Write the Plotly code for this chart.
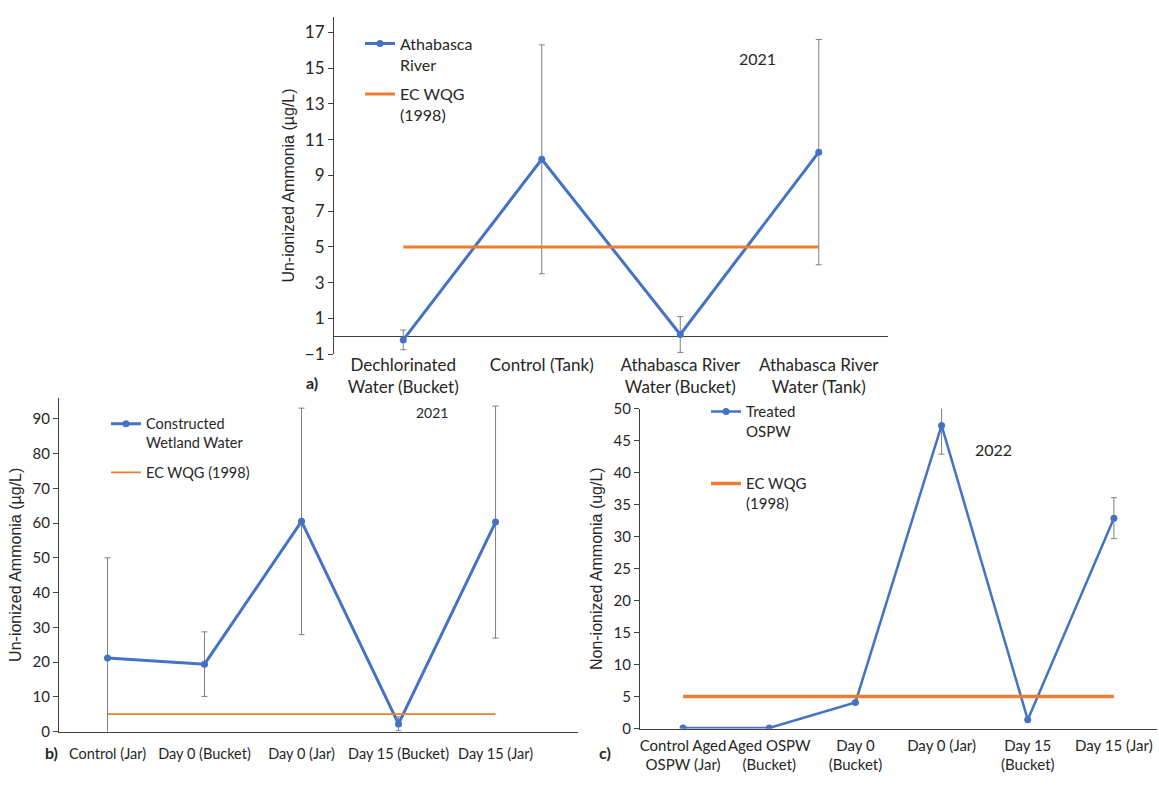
import plotly.graph_objects as go

# ---------------- data ----------------
cats_a = ["Dechlorinated<br>Water (Bucket)", "Control (Tank)",
          "Athabasca River<br>Water (Bucket)", "Athabasca River<br>Water (Tank)"]
vals_a = [-0.2, 9.9, 0.1, 10.3]
err_a = [0.55, 6.4, 1.0, 6.3]

cats_b = ["Control (Jar)", "Day 0 (Bucket)", "Day 0 (Jar)", "Day 15 (Bucket)", "Day 15 (Jar)"]
vals_b = [21.2, 19.4, 60.5, 2.2, 60.3]
err_b = [28.8, 9.3, 32.6, 2.0, 33.4]

cats_c = ["Control Aged<br>OSPW (Jar)", "Aged OSPW<br>(Bucket)", "Day 0<br>(Bucket)",
          "Day 0 (Jar)", "Day 15<br>(Bucket)", "Day 15 (Jar)"]
vals_c = [0.1, 0.1, 4.1, 47.4, 1.4, 32.9]
err_c = [0.0, 0.0, 0.0, 4.5, 0.0, 3.2]

EC_WQG = 5

BLUE = "#4472C4"
ORANGE = "#ED7D31"
ERR = "#7F7F7F"
INK = "#262626"
AX = "#404040"

def font(size, fam="Lato"):
    return dict(family=fam, size=size, color=INK)

TITLEFONT = font(16, "Liberation Sans")

fig = go.Figure()

def add_panel(cats, vals, errs, xa, ya, leg, name, lw_blue, lw_orange, gap, clip=True):
    fig.add_trace(go.Scatter(
        x=cats, y=vals, mode="lines+markers", name=name,
        line=dict(color=BLUE, width=lw_blue), marker=dict(color=BLUE, size=7),
        error_y=dict(type="data", array=errs, visible=True, color=ERR, thickness=1, width=3),
        xaxis=xa, yaxis=ya, legend=leg, legendgroup=leg + "a", cliponaxis=clip))
    fig.add_trace(go.Scatter(
        x=cats, y=[EC_WQG] * len(cats), mode="lines", name=gap,
        line=dict(color=ORANGE, width=lw_orange),
        xaxis=xa, yaxis=ya, legend=leg, legendgroup=leg + "b"))

add_panel(cats_a, vals_a, err_a, "x", "y", "legend", "Athabasca<br>River", 3, 3, "EC WQG<br>(1998)")
add_panel(cats_b, vals_b, err_b, "x2", "y2", "legend2", "Constructed<br>Wetland Water", 3, 1.8, "EC WQG (1998)")
add_panel(cats_c, vals_c, err_c, "x3", "y3", "legend3", "Treated<br>OSPW", 2.5, 3.5, "EC WQG<br>(1998)")

W, H = 1159, 801
def px(x): return x / W
def py(y): return 1 - y / H

def xax(size, ticklen, **kw):
    d = dict(type="category", showgrid=False, zeroline=False, ticks="outside",
             ticklen=ticklen, tickcolor="rgba(0,0,0,0)", tickangle=0,
             tickfont=font(size), showline=True, linecolor=AX, linewidth=1)
    d.update(kw)
    return d

def yax(size, title, **kw):
    d = dict(showgrid=False, ticks="outside", ticklen=5, tickcolor=AX,
             tickfont=font(size), showline=True, linecolor=AX, linewidth=1,
             title=dict(text=title, standoff=6, font=TITLEFONT))
    d.update(kw)
    return d

fig.update_layout(
    width=W, height=H, margin=dict(l=0, r=0, t=0, b=0),
    paper_bgcolor="white", plot_bgcolor="white", showlegend=True,
    xaxis=xax(17, 0, domain=[px(334), px(888)], anchor="y", range=[-0.5, 3.5], showline=False,
              ticklabelstandoff=-5),
    yaxis=yax(17, "Un-ionized Ammonia (µg/L)", domain=[py(353), py(7)], anchor="x",
              range=[-1, 17.87], tick0=-1, dtick=2,
              zeroline=True, zerolinecolor=AX, zerolinewidth=1),
    xaxis2=xax(14.5, 9, domain=[px(59), px(578)], anchor="y2", range=[-0.5, 4.85]),
    yaxis2=yax(15, "Un-ionized Ammonia (µg/L)", domain=[py(740), py(398)], anchor="x2",
               range=[0, 96], dtick=10, zeroline=False),
    xaxis3=xax(15, 3, domain=[px(640), px(1157)], anchor="y3", range=[-0.5, 5.5]),
    yaxis3=yax(15, "Non-ionized Ammonia (ug/L)", domain=[py(737), py(409)], anchor="x3",
               range=[0, 50], dtick=5, zeroline=False),
    legend=dict(x=px(360), y=py(17), xanchor="left", yanchor="top", font=font(16),
                bgcolor="rgba(0,0,0,0)", valign="top", tracegroupgap=6, itemwidth=30),
    legend2=dict(x=px(106), y=py(408), xanchor="left", yanchor="top", font=font(14.5),
                 bgcolor="rgba(0,0,0,0)", valign="top", tracegroupgap=8, itemwidth=30),
    legend3=dict(x=px(706), y=py(395), xanchor="left", yanchor="top", font=font(15),
                 bgcolor="rgba(0,0,0,0)", valign="top", tracegroupgap=30, itemwidth=30),
    annotations=[
        dict(text="2021", x=px(757), y=py(38), xref="paper", yref="paper", showarrow=False,
             font=font(16)),
        dict(text="2021", x=px(432), y=py(413), xref="paper", yref="paper", showarrow=False,
             font=font(14)),
        dict(text="2022", x=px(1014), y=py(451), xref="paper", yref="paper", showarrow=False,
             font=font(16)),
        dict(text="<b>a)</b>", x=px(304), y=py(382), xref="paper", yref="paper", showarrow=False,
             font=font(16)),
        dict(text="<b>b)</b>", x=px(43), y=py(773), xref="paper", yref="paper", showarrow=False,
             font=font(16)),
        dict(text="<b>c)</b>", x=px(605), y=py(773), xref="paper", yref="paper", showarrow=False,
             font=font(16)),
    ],
)

fig.write_html("out.html")
